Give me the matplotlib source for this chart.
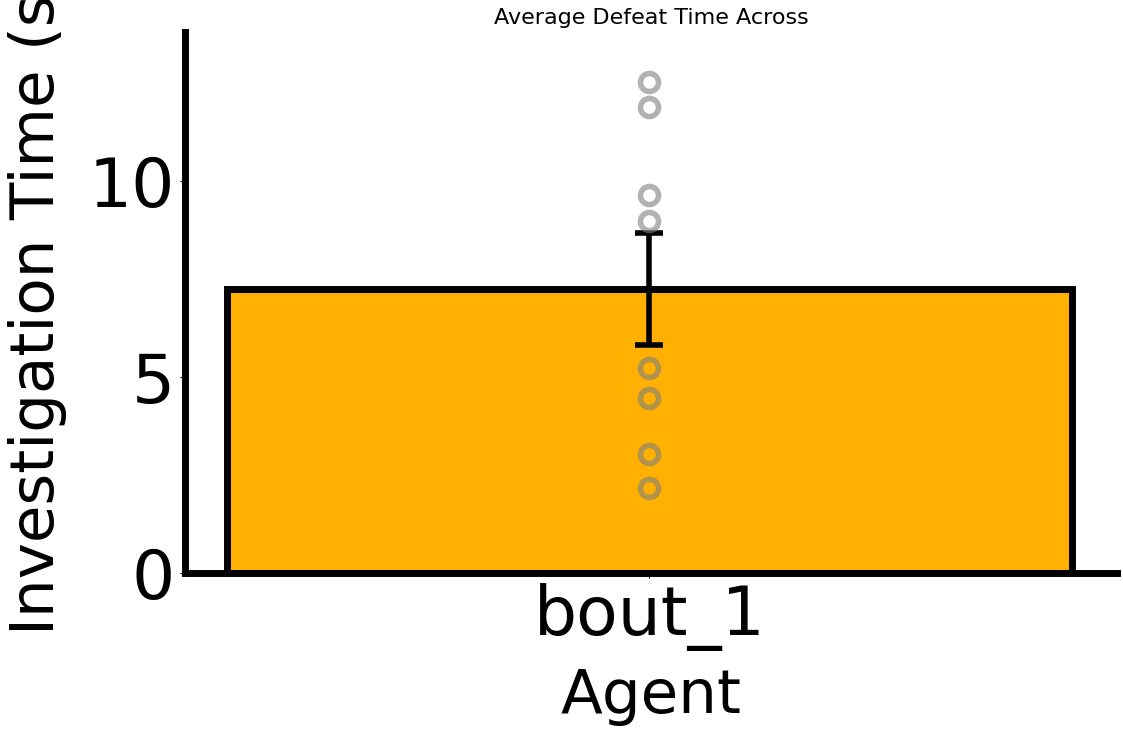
import numpy as np
import matplotlib.pyplot as plt

# 数据
categories = ['bout_1']
points = [12.53, 11.89, 9.64, 8.98, 5.23, 4.46, 3.04, 2.17]

mean = np.mean(points)
sem = np.std(points, ddof=1) / np.sqrt(len(points))

fig = plt.figure(figsize=(11.23, 7.37), dpi=100)
ax = fig.add_axes([0.1647, 0.2225, 0.83, 0.7341])

x = np.arange(len(categories))
ax.bar(x, [mean], width=0.8, color='#FFB000', edgecolor='black', linewidth=5, zorder=1)
ax.errorbar(x, [mean], yerr=[sem], fmt='none', ecolor='black', elinewidth=4,
            capsize=10, capthick=4, zorder=2)
ax.plot(np.zeros(len(points)), points, 'o', markersize=13, markerfacecolor='none',
        markeredgecolor='gray', markeredgewidth=4, alpha=0.6, zorder=3)

ax.set_xlim(-0.44, 0.443)
ax.set_ylim(0, 13.8)
ax.set_xticks(x)
ax.set_xticklabels(categories)
ax.set_yticks([0, 5, 10])
ax.tick_params(axis='both', labelsize=49)

ax.set_xlabel('Agent', fontsize=44, labelpad=12)
ax.set_ylabel('Investigation Time (s)', fontsize=44, labelpad=16)
ax.set_title('Average Defeat Time Across', fontsize=16)

for s in ['top', 'right']:
    ax.spines[s].set_visible(False)
for s in ['left', 'bottom']:
    ax.spines[s].set_linewidth(5)

fig.savefig('out.png', dpi=100)
